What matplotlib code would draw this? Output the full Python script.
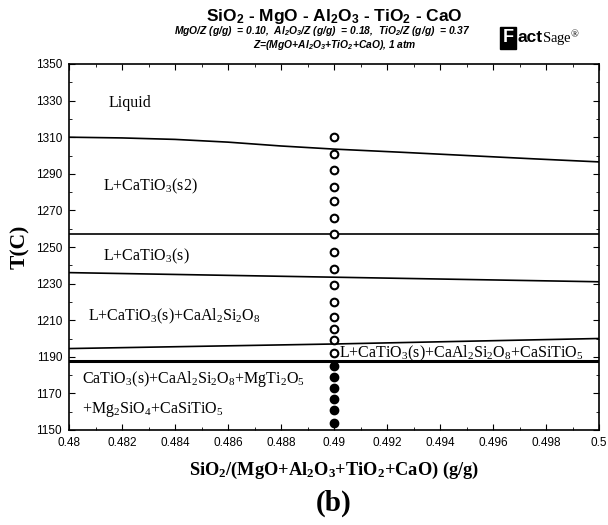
import matplotlib
matplotlib.use("Agg")
import matplotlib.pyplot as plt
from matplotlib.ticker import MultipleLocator

plt.rcParams['mathtext.default'] = 'regular'

# composition of the tested samples
x_sample = 0.49
t_open = [1310, 1301, 1292, 1283, 1275, 1266, 1257, 1247, 1238, 1229,
          1220, 1212, 1205, 1199, 1192]
t_filled = [1185, 1179, 1173, 1167, 1161, 1154]

# phase boundaries
liq_x = [0.48, 0.482, 0.484, 0.486, 0.488, 0.49, 0.4925, 0.495, 0.4975, 0.5]
liq_T = [1310, 1309.6, 1308.8, 1307.3, 1305.2, 1303.5, 1301.8, 1300, 1298.2, 1296.5]
trans_x = [0.48, 0.5]
trans_T = [1257, 1257]
b3_x = [0.48, 0.49, 0.5]
b3_T = [1236, 1233.5, 1231]
b4_x = [0.48, 0.49, 0.5]
b4_T = [1194.5, 1197, 1200]
sol_x = [0.48, 0.5]
sol_T = [1187.5, 1187.5]

fig = plt.figure(figsize=(6.08, 5.25), dpi=100)
ax = fig.add_axes([69/608, 95/525, 530/608, 366/525])

for xs, ts, lw in [(liq_x, liq_T, 1.2), (trans_x, trans_T, 1.2), (b3_x, b3_T, 1.2),
                   (b4_x, b4_T, 1.2), (sol_x, sol_T, 2.2)]:
    ax.plot(xs, ts, color='black', lw=lw)

ax.plot([x_sample]*len(t_open), t_open, 'o', mfc='white', mec='black', mew=1.5, ms=5.5, zorder=3)
ax.plot([x_sample]*len(t_filled), t_filled, 'o', mfc='black', mec='black', ms=6, zorder=3)

ax.set_xlim(0.48, 0.5)
ax.set_ylim(1150, 1350)
ax.xaxis.set_minor_locator(MultipleLocator(0.001))
ax.yaxis.set_minor_locator(MultipleLocator(10))
ax.set_yticks(range(1150, 1351, 20))
ax.set_xticks([0.48 + 0.002*i for i in range(11)])
ax.set_xticklabels(['0.48', '0.482', '0.484', '0.486', '0.488', '0.49', '0.492',
                    '0.494', '0.496', '0.498', '0.5'])
ax.tick_params(which='both', direction='in', top=True, right=True, labelsize=8.5, pad=5)
ax.tick_params(which='major', length=4)
ax.tick_params(which='minor', length=2)
for lab in ax.get_xticklabels() + ax.get_yticklabels():
    lab.set_family('Liberation Sans')
for s in ax.spines.values():
    s.set_linewidth(1.2)

serif = dict(family='Liberation Serif', fontsize=11.5, color='black')
ax.text(0.4815, 1328.5, 'Liquid', va='center', **serif)
ax.text(0.4813, 1283, 'L+CaTiO$_3$(s2)', va='center', **serif)
ax.text(0.4813, 1245, 'L+CaTiO$_3$(s)', va='center', **serif)
ax.text(0.4807, 1212, 'L+CaTiO$_3$(s)+CaAl$_2$Si$_2$O$_8$', va='center', **serif)
ax.text(0.4902, 1192, 'L+CaTiO$_3$(s)+CaAl$_2$Si$_2$O$_8$+CaSiTiO$_5$', va='center', **serif)
ax.text(0.4805, 1178, 'CaTiO$_3$(s)+CaAl$_2$Si$_2$O$_8$+MgTi$_2$O$_5$', va='center', **serif)
ax.text(0.4805, 1161, '+Mg$_2$SiO$_4$+CaSiTiO$_5$', va='center', **serif)

ax.set_ylabel('T(C)', family='Liberation Serif', fontweight='bold', fontsize=15.5, labelpad=4)
ax.set_xlabel('SiO$_2$/(MgO+Al$_2$O$_3$+TiO$_2$+CaO) (g/g)', family='Liberation Serif',
              fontweight='bold', fontsize=13.2, labelpad=8)

fig.text(334/608, 1 - 16/525, 'SiO$_2$ - MgO - Al$_2$O$_3$ - TiO$_2$ - CaO', ha='center',
         va='center', family='Liberation Sans', fontweight='bold', fontsize=12.5)
fig.text(322/608, 1 - 31/525,
         'MgO/Z (g/g)  = 0.10,  Al$_2$O$_3$/Z (g/g)  = 0.18,  TiO$_2$/Z (g/g)  = 0.37',
         ha='center', va='center', family='Liberation Sans', style='italic',
         fontweight='bold', fontsize=7.4)
fig.text(335/608, 1 - 45/525, 'Z=(MgO+Al$_2$O$_3$+TiO$_2$+CaO), 1 atm', ha='center',
         va='center', family='Liberation Sans', style='italic', fontweight='bold', fontsize=7.4)

# FactSage logo
fig.text(508/608, 1 - 38/525, 'F', ha='center', va='center', family='Liberation Sans',
         fontweight='bold', fontsize=13, color='white',
         bbox=dict(boxstyle='square,pad=0.12', fc='black', ec='black'))
fig.text(517/608, 1 - 38/525, 'act', ha='left', va='center', family='Liberation Sans',
         fontweight='bold', fontsize=12.5)
fig.text(542/608, 1 - 38/525, 'Sage$^{\u00ae}$', ha='left', va='center', family='Liberation Serif',
         fontsize=10.5)

fig.text(334/608, 1 - 503/525, '(b)', ha='center', va='center', family='Liberation Serif',
         fontweight='bold', fontsize=21)

fig.savefig('out.png', dpi=100)
